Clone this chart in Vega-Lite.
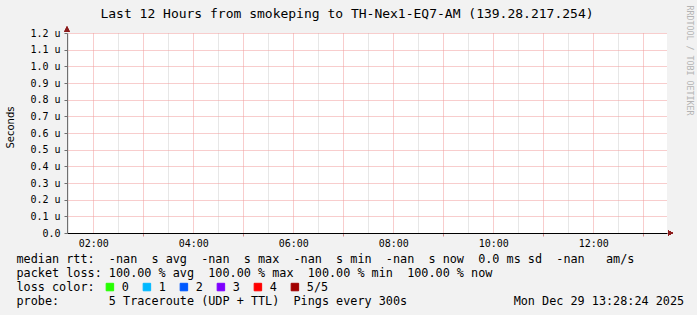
{
  "$schema": "https://vega.github.io/schema/vega-lite/v6.json",
  "width": 600,
  "height": 200,
  "autosize": {"type": "none"},
  "padding": {"left": 67, "top": 33, "right": 30, "bottom": 82},
  "background": "#f2f2f2",
  "config": {
    "view": {"fill": "white", "stroke": null},
    "font": "DejaVu Sans Mono"
  },
  "title": {
    "text": "Last 12 Hours from smokeping to TH-Nex1-EQ7-AM (139.28.217.254)",
    "font": "DejaVu Sans Mono",
    "fontSize": 13,
    "fontWeight": "normal",
    "color": "black",
    "anchor": "middle",
    "baseline": "alphabetic",
    "dx": -20,
    "dy": 13,
    "offset": -13
  },
  "datasets": {
    "samples": [
      {"time": "2025-12-29T02:00:00Z", "median_rtt": null, "loss": "5/5", "packet_loss_pct": 100},
      {"time": "2025-12-29T03:00:00Z", "median_rtt": null, "loss": "5/5", "packet_loss_pct": 100},
      {"time": "2025-12-29T04:00:00Z", "median_rtt": null, "loss": "5/5", "packet_loss_pct": 100},
      {"time": "2025-12-29T05:00:00Z", "median_rtt": null, "loss": "5/5", "packet_loss_pct": 100},
      {"time": "2025-12-29T06:00:00Z", "median_rtt": null, "loss": "5/5", "packet_loss_pct": 100},
      {"time": "2025-12-29T07:00:00Z", "median_rtt": null, "loss": "5/5", "packet_loss_pct": 100},
      {"time": "2025-12-29T08:00:00Z", "median_rtt": null, "loss": "5/5", "packet_loss_pct": 100},
      {"time": "2025-12-29T09:00:00Z", "median_rtt": null, "loss": "5/5", "packet_loss_pct": 100},
      {"time": "2025-12-29T10:00:00Z", "median_rtt": null, "loss": "5/5", "packet_loss_pct": 100},
      {"time": "2025-12-29T11:00:00Z", "median_rtt": null, "loss": "5/5", "packet_loss_pct": 100},
      {"time": "2025-12-29T12:00:00Z", "median_rtt": null, "loss": "5/5", "packet_loss_pct": 100},
      {"time": "2025-12-29T13:00:00Z", "median_rtt": null, "loss": "5/5", "packet_loss_pct": 100}
    ]
  },
  "data": {"name": "samples"},
  "layer": [
    {
      "mark": {"type": "line", "strokeWidth": 1},
      "encoding": {
        "x": {
          "field": "time",
          "type": "temporal",
          "scale": {"type": "utc", "domain": [1766971704000, 1767014904000]},
          "axis": {
            "orient": "bottom",
            "values": [1766971800000, 1766973600000, 1766975400000, 1766977200000, 1766979000000, 1766980800000, 1766982600000, 1766984400000, 1766986200000, 1766988000000, 1766989800000, 1766991600000, 1766993400000, 1766995200000, 1766997000000, 1766998800000, 1767000600000, 1767002400000, 1767004200000, 1767006000000, 1767007800000, 1767009600000, 1767011400000, 1767013200000],
            "grid": true,
            "gridColor": {"condition": {"test": "utcminutes(datum.value) == 0", "value": "#f09a9a"}, "value": "#cfcfcf"},
            "gridDash": [1, 1],
            "domainColor": "black",
            "domainWidth": 1,
            "ticks": true,
            "tickSize": 3,
            "tickColor": "#d08888",
            "tickOpacity": {"condition": {"test": "utcminutes(datum.value) == 0 && utchours(datum.value) % 2 == 1", "value": 1}, "value": 0},
            "labelExpr": "utcminutes(datum.value) == 0 && utchours(datum.value) % 2 == 0 ? utcFormat(datum.value, '%H:%M') : ''",
            "labelFont": "DejaVu Sans Mono",
            "labelFontSize": 10,
            "labelColor": "black",
            "labelPadding": 2,
            "labelFlush": false,
            "labelOverlap": false,
            "title": [
              "median\u00a0rtt:\u00a0\u00a0-nan\u00a0\u00a0s\u00a0avg\u00a0\u00a0-nan\u00a0\u00a0s\u00a0max\u00a0\u00a0-nan\u00a0\u00a0s\u00a0min\u00a0\u00a0-nan\u00a0\u00a0s\u00a0now\u00a0\u00a00.0\u00a0ms\u00a0sd\u00a0\u00a0-nan\u00a0\u00a0\u00a0am/s",
              "packet\u00a0loss:\u00a0100.00\u00a0%\u00a0avg\u00a0\u00a0100.00\u00a0%\u00a0max\u00a0\u00a0100.00\u00a0%\u00a0min\u00a0\u00a0100.00\u00a0%\u00a0now",
              "loss\u00a0color:",
              "probe:\u00a0\u00a0\u00a0\u00a0\u00a0\u00a0\u00a05\u00a0Traceroute\u00a0(UDP\u00a0+\u00a0TTL)\u00a0\u00a0Pings\u00a0every\u00a0300s\u00a0\u00a0\u00a0\u00a0\u00a0\u00a0\u00a0\u00a0\u00a0\u00a0\u00a0\u00a0\u00a0\u00a0\u00a0Mon\u00a0Dec\u00a029\u00a013:28:24\u00a02025"
            ],
            "titleFont": "DejaVu Sans Mono",
            "titleFontSize": 11.8,
            "titleFontWeight": "normal",
            "titleColor": "black",
            "titleAlign": "left",
            "titleAnchor": "start",
            "titleBaseline": "alphabetic",
            "titleX": -51,
            "titleY": 29.5,
            "titleLineHeight": 14
          }
        },
        "y": {
          "field": "median_rtt",
          "type": "quantitative",
          "scale": {"domain": [0, 1.2], "nice": false, "zero": true},
          "axis": {
            "orient": "left",
            "values": [0, 0.1, 0.2, 0.3, 0.4, 0.5, 0.6, 0.7, 0.8, 0.9, 1.0, 1.1, 1.2],
            "grid": true,
            "gridColor": "#f09a9a",
            "gridDash": [1, 1],
            "gridOpacity": {"condition": {"test": "datum.value == 0", "value": 0}, "value": 1},
            "domainColor": "#707070",
            "tickColor": "#707070",
            "tickSize": 3,
            "labelPadding": 4,
            "labelExpr": "datum.value == 0 ? '0.0' : format(datum.value, '.1f') + ' u'",
            "labelFont": "DejaVu Sans Mono",
            "labelFontSize": 10,
            "labelColor": "black",
            "labelFlush": false,
            "labelOverlap": false,
            "title": "Seconds",
            "titleFont": "DejaVu Sans",
            "titleFontSize": 10,
            "titleFontWeight": "normal",
            "titleColor": "black",
            "titleAngle": 270,
            "titleX": -57,
            "titleY": 94,
            "titleAlign": "center",
            "titleBaseline": "middle"
          }
        },
        "color": {
          "field": "loss",
          "type": "nominal",
          "scale": {
            "domain": ["0", "1", "2", "3", "4", "5/5"],
            "range": ["#26ff00", "#00b8ff", "#0059ff", "#7e00ff", "#ff0000", "#a10000"]
          },
          "legend": {
            "orient": "none",
            "legendX": 37,
            "legendY": 248,
            "padding": 0,
            "direction": "horizontal",
            "title": null,
            "symbolType": "square",
            "symbolSize": 56,
            "symbolStrokeWidth": 1,
            "labelFont": "DejaVu Sans Mono",
            "labelFontSize": 11.8,
            "labelColor": "black",
            "labelOffset": 6,
            "columnPadding": 12,
            "encode": {
              "symbols": {
                "update": {
                  "fill": {"scale": "color", "field": "value"},
                  "stroke": {"value": "black"},
                  "strokeWidth": {"value": 1},
                  "opacity": {"value": 1}
                }
              }
            }
          }
        }
      }
    },
    {
      "mark": {"type": "point", "filled": true, "color": "#8c1c1c", "opacity": 1, "size": 25, "shape": "M -1 1 L 1 1 L 0 -1 Z", "yOffset": -4},
      "encoding": {
        "x": {"datum": 1766971704000, "type": "temporal", "axis": null},
        "y": {"datum": 1.2, "type": "quantitative", "axis": null}
      }
    },
    {
      "mark": {"type": "point", "filled": true, "color": "#8c1c1c", "opacity": 1, "size": 25, "shape": "M -1 -1 L 1 0 L -1 1 Z", "xOffset": 3.5},
      "encoding": {
        "x": {"datum": 1767014904000, "type": "temporal", "axis": null},
        "y": {
          "datum": 0,
          "type": "quantitative",
          "axis": {
            "orient": "right",
            "labels": false,
            "ticks": false,
            "domain": false,
            "grid": false,
            "title": "RRDTOOL / TOBI OETIKER",
            "titleFont": "DejaVu Sans Mono",
            "titleFontSize": 8.3,
            "titleFontWeight": "normal",
            "titleColor": "#b4b4b4",
            "titleAngle": 90,
            "titleX": 21,
            "titleY": 27,
            "titleAlign": "center",
            "titleBaseline": "middle"
          }
        }
      }
    }
  ],
  "resolve": {"axis": {"x": "independent", "y": "independent"}}
}
